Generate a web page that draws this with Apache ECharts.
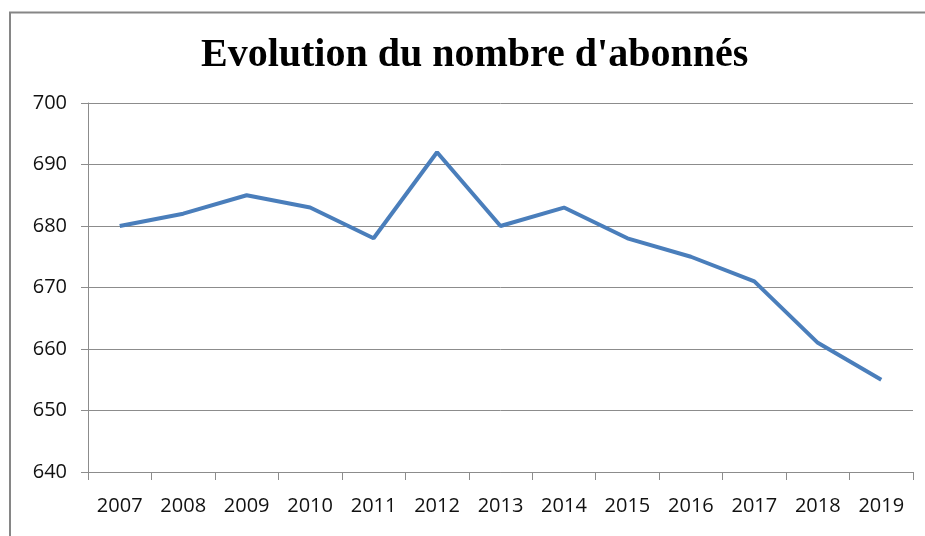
<!DOCTYPE html>
<html>
<head>
<meta charset="utf-8">
<script src="https://cdn.jsdelivr.net/npm/echarts@6.0.0/dist/echarts.min.js"></script>
<style>
  html, body { margin: 0; padding: 0; background: #fff; }
  #chart { width: 925px; height: 536px; }
</style>
</head>
<body>
<div id="chart"></div>
<script>
const years = ['2007', '2008', '2009', '2010', '2011', '2012', '2013', '2014', '2015', '2016', '2017', '2018', '2019'];
const subscribers = [680, 682, 685, 683, 678, 692, 680, 683, 678, 675, 671, 661, 655];
const titleText = "Evolution du nombre d'abonnés";

const chart = echarts.init(document.getElementById('chart'));

const axisGray = '#8c8c8c';
const labelFont = "'Open Sans', 'Liberation Sans', sans-serif";

chart.setOption({
  animation: false,
  backgroundColor: '#fff',
  title: {
    text: titleText,
    left: 196,
    top: 31,
    textStyle: {
      fontFamily: "'Liberation Serif', 'Times New Roman', serif",
      fontWeight: 'bold',
      fontSize: 40,
      color: '#000'
    }
  },
  graphic: [{
    type: 'rect',
    shape: { x: 10, y: 12.5, width: 940, height: 560 },
    style: { fill: 'none', stroke: '#868686', lineWidth: 2 },
    silent: true
  }],
  grid: { left: 88, right: 12, top: 103, bottom: 64 },
  xAxis: {
    type: 'category',
    data: years,
    boundaryGap: true,
    axisLine: { lineStyle: { color: axisGray, width: 1 } },
    axisTick: { show: true, length: 8, lineStyle: { color: axisGray } },
    axisLabel: { margin: 24, fontFamily: labelFont, fontSize: 20, color: '#111' },
    splitLine: { show: false }
  },
  yAxis: {
    type: 'value',
    min: 640,
    max: 700,
    interval: 10,
    axisLine: { show: true, lineStyle: { color: axisGray, width: 1 } },
    axisTick: { show: true, length: 7, lineStyle: { color: axisGray } },
    axisLabel: { margin: 21, fontFamily: labelFont, fontSize: 20, color: '#111' },
    splitLine: { show: true, lineStyle: { color: axisGray, width: 1 } }
  },
  series: [{
    type: 'line',
    data: subscribers,
    showSymbol: false,
    symbol: 'none',
    lineStyle: { color: '#4a7ebb', width: 4 },
    itemStyle: { color: '#4a7ebb' }
  }]
});
</script>
</body>
</html>
